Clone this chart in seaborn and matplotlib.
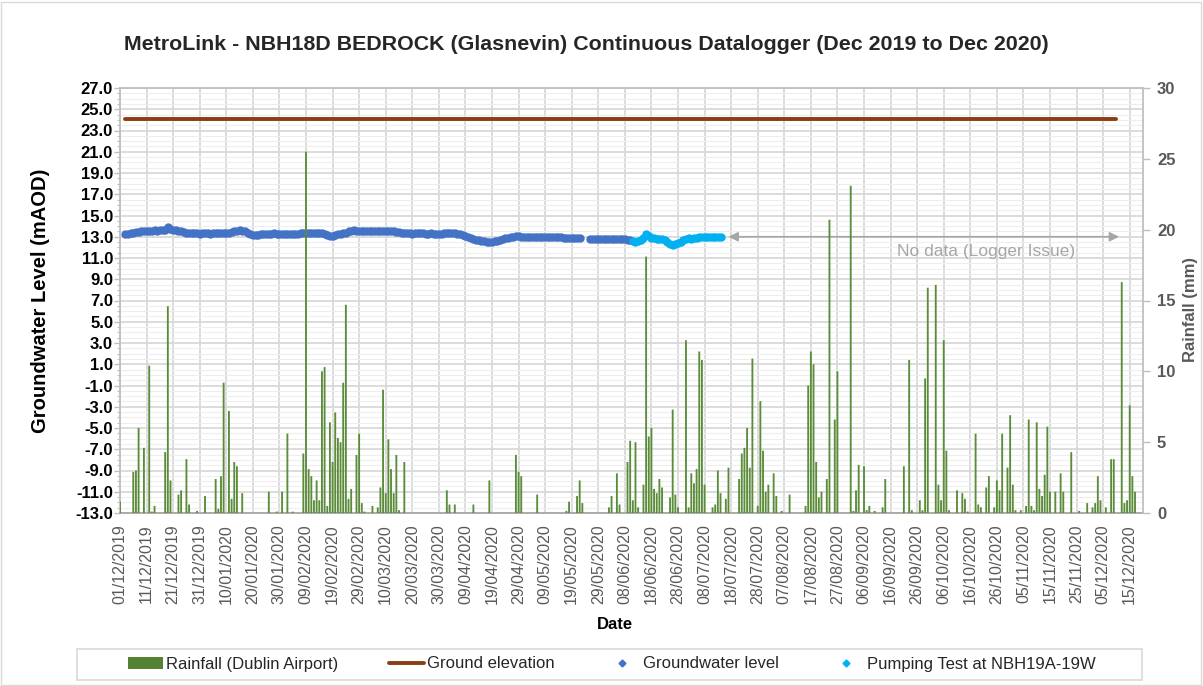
import matplotlib
matplotlib.use("Agg")
import matplotlib.pyplot as plt
import matplotlib.dates as mdates
from matplotlib.lines import Line2D
from matplotlib.patches import Patch, Rectangle
from matplotlib.ticker import FixedLocator, FormatStrFormatter
import numpy as np
import pandas as pd
import seaborn as sns

# ---- data ----
START = pd.Timestamp("2019-12-01")
X_END_DAYS = 385

# daily rainfall, Dublin Airport (day offset from 01/12/2019, mm)
rain_day = [
    0, 5, 6, 7, 9, 11, 12, 13, 17, 18, 19, 22, 23, 25, 26, 29, 32, 36, 37, 38,
    39, 41, 42, 43, 44, 46, 56, 59, 61, 63,
    65, 69, 70, 71, 72, 73, 74, 75, 76, 77, 78, 79, 80, 81, 82, 83, 84, 85, 86, 87,
    89, 90, 91, 92, 95, 97, 98, 99, 100, 101, 102, 103, 104, 105, 107, 123, 124, 126,
    133, 139, 149, 150, 151, 157, 168, 169, 172, 173, 174, 184, 185, 187, 188, 191,
    192, 193, 194, 195, 197, 198, 199, 200, 201, 202, 203, 204, 207, 208, 209, 210,
    213, 214, 215, 216, 217, 218, 219, 220, 223, 224, 225, 226, 228, 229, 233, 234,
    235, 236, 237, 238, 240, 241, 242, 243, 244, 246, 247, 249, 252,
    258, 259, 260, 261, 262, 263, 264, 266, 267, 269, 270, 275, 276, 277, 278, 280,
    281, 282, 284, 287, 288, 295, 297, 298, 301, 302, 303, 304, 307, 308, 309, 310,
    311, 312, 315, 317, 318,
    319, 322, 323, 324, 326, 327, 329, 330, 331, 332, 334, 335, 336, 337, 339, 341,
    342, 343, 344, 345, 346, 347, 348, 349, 350, 352, 354, 355, 358, 361, 364, 366,
    367, 368, 369, 371, 373, 374, 377, 378, 379, 380, 381, 382,
]
rain_mm = [
    0.8, 2.9, 3.0, 6.0, 4.6, 10.4, 0.1, 0.5, 4.3, 14.6, 2.3, 1.3, 1.6, 3.8, 0.6, 0.15, 1.2, 2.4, 0.3, 2.6,
    9.2, 7.2, 1.0, 3.6, 3.3, 1.4, 1.5, 0.1, 1.5, 5.6,
    0.1, 4.2, 25.5, 3.1, 2.6, 0.9, 2.3, 0.9, 10.0, 10.3, 0.5, 6.4, 3.6, 7.1, 5.3, 5.0, 9.2, 14.7, 1.0, 1.7,
    4.1, 5.6, 0.7, 0.1, 0.5, 0.4, 1.8, 8.7, 1.4, 5.2, 3.1, 1.4, 4.1, 0.2, 3.6, 1.6, 0.6, 0.6,
    0.6, 2.3, 4.1, 2.9, 2.6, 1.3, 0.15, 0.8, 1.2, 2.3, 0.7, 0.4, 1.2, 2.8, 0.6, 3.6,
    5.1, 0.9, 5.0, 0.4, 2.0, 18.1, 5.4, 6.0, 1.7, 1.4, 2.4, 1.8, 1.1, 7.3, 1.3, 0.4,
    12.2, 0.4, 2.8, 2.1, 3.1, 11.4, 10.8, 2.0, 0.4, 0.6, 3.0, 1.4, 1.0, 3.2, 2.4, 4.2,
    4.6, 6.0, 3.2, 10.9, 0.5, 7.9, 4.4, 1.5, 2.0, 2.8, 1.2, 0.15, 1.3,
    0.5, 9.0, 11.4, 10.5, 3.6, 1.1, 1.5, 2.4, 20.7, 6.6, 10.0, 23.1, 0.15, 1.6, 3.4, 3.3,
    0.2, 0.5, 0.15, 0.4, 2.4, 3.3, 10.8, 0.2, 0.9, 0.2, 9.5, 15.9, 16.1, 2.0, 0.9, 12.2,
    4.4, 0.2, 1.6, 1.4, 1.0,
    0.1, 5.6, 0.6, 0.4, 1.8, 2.6, 0.4, 2.3, 1.6, 5.6, 3.2, 6.9, 2.0, 0.2, 0.2, 0.5,
    6.6, 0.5, 0.2, 6.4, 1.7, 1.2, 2.7, 6.1, 1.5, 1.5, 2.8, 1.5, 4.3, 0.15, 0.7, 0.4,
    0.7, 2.6, 0.9, 0.4, 3.8, 3.8, 16.3, 0.7, 0.9, 7.6, 2.6, 1.5,
]

# ground elevation (mAOD)
ground_dates = ["2019-12-03", "2020-12-10"]
ground_level = [24.1, 24.1]

# groundwater level, daily readings (mAOD)
gw1_start = "2019-12-03"
gw1_level = [
    13.25, 13.30, 13.35, 13.40, 13.45, 13.45, 13.50, 13.50, 13.50,
    13.55, 13.50, 13.60, 13.55, 13.60, 13.60, 13.65,
    13.90, 13.75, 13.65, 13.60, 13.55, 13.50, 13.45,
    13.40, 13.35, 13.35, 13.35, 13.35, 13.30, 13.35, 13.35, 13.35, 13.30,
    13.35, 13.35, 13.35, 13.40, 13.35, 13.35, 13.40, 13.45, 13.50,
    13.55, 13.60, 13.55, 13.50,
    13.35, 13.25, 13.20, 13.20, 13.20, 13.25,
    13.30, 13.30, 13.30, 13.30, 13.35, 13.30, 13.30, 13.30, 13.30, 13.30,
    13.25, 13.30, 13.30, 13.30, 13.35, 13.35, 13.40,
    13.40, 13.35, 13.35, 13.40, 13.35, 13.35, 13.30,
    13.20, 13.05, 13.05, 13.15, 13.25, 13.30, 13.35, 13.40,
    13.50, 13.55, 13.60, 13.55, 13.50,
    13.50, 13.50, 13.55, 13.50, 13.50, 13.50, 13.50, 13.55, 13.50, 13.50,
    13.50, 13.50, 13.50, 13.45, 13.45, 13.40,
    13.35, 13.35, 13.35, 13.30, 13.35, 13.35, 13.35, 13.35, 13.30, 13.30,
    13.35, 13.30, 13.30, 13.25, 13.30,
    13.35, 13.40, 13.40, 13.40, 13.35, 13.30,
    13.25, 13.15, 13.05, 12.95, 12.85, 12.75, 12.70, 12.65,
    12.60, 12.60, 12.55, 12.55, 12.55, 12.60, 12.60, 12.65,
    12.75, 12.85, 12.90, 12.95, 13.00,
    13.05, 13.05, 13.00, 13.00, 13.00, 13.00, 12.95, 12.95, 13.00, 13.00,
    13.00, 12.95, 12.95, 12.95, 12.95, 12.95, 13.00, 12.95, 12.90, 12.90,
    12.90, 12.85, 12.85, 12.85, 12.85,
]
gw2_start = "2020-05-26"
gw2_level = [
    12.80, 12.80, 12.80, 12.80, 12.75, 12.80, 12.80, 12.80, 12.75, 12.75,
    12.80, 12.75, 12.75, 12.75, 12.70, 12.65,
]

# pumping test at NBH19A-19W, daily readings (mAOD)
pump_start = "2020-06-11"
pump_level = [
    12.60, 12.55, 12.60, 12.70, 12.90, 13.25, 13.05, 12.90, 12.85, 12.80,
    12.80, 12.75, 12.65, 12.50, 12.35, 12.20, 12.30, 12.40, 12.55, 12.65,
    12.75, 12.85, 12.80, 12.85, 12.90, 12.95, 13.00, 12.95, 13.00, 13.00,
    12.95, 13.00, 12.95, 12.95,
]

# "no data" annotation
nodata_from, nodata_to, nodata_y = "2020-07-17", "2020-12-11", 13.0
nodata_text_x, nodata_text_y = "2020-10-22", 11.65

title = "MetroLink - NBH18D BEDROCK (Glasnevin) Continuous Datalogger (Dec 2019 to Dec 2020)"

# ---- styling ----
sns.set_style("white")
plt.rcParams["font.family"] = ["Liberation Sans", "DejaVu Sans"]

C_RAIN = "#5B8C3A"
C_GROUND = "#8B3E12"
C_GW = "#4472C4"
C_PUMP = "#00B0F0"
C_GRID = "#D9D9D9"
C_TXT = "#595959"

rain_df = pd.DataFrame({"date": START + pd.to_timedelta(rain_day, unit="D"), "mm": rain_mm})
gw_df = pd.concat([
    pd.DataFrame({"date": pd.date_range(gw1_start, periods=len(gw1_level), freq="D"), "level": gw1_level}),
    pd.DataFrame({"date": pd.date_range(gw2_start, periods=len(gw2_level), freq="D"), "level": gw2_level}),
])
pump_df = pd.DataFrame({"date": pd.date_range(pump_start, periods=len(pump_level), freq="D"), "level": pump_level})
ground_df = pd.DataFrame({"date": pd.to_datetime(ground_dates), "level": ground_level})

fig = plt.figure(figsize=(12.03, 6.86), dpi=100)
ax = fig.add_subplot(111)
fig.subplots_adjust(left=120 / 1203, right=1143 / 1203, top=1 - 88 / 686, bottom=1 - 513 / 686)

sns.lineplot(data=ground_df, x="date", y="level", ax=ax, color=C_GROUND, linewidth=2.8, zorder=3)
sns.scatterplot(data=gw_df, x="date", y="level", ax=ax, color=C_GW, s=36, linewidth=0, zorder=4)
sns.scatterplot(data=pump_df, x="date", y="level", ax=ax, color=C_PUMP, s=36, linewidth=0, zorder=4)

ax.set_xlim(START, START + pd.Timedelta(days=X_END_DAYS))
ax.set_ylim(-13, 27)
ax.yaxis.set_major_locator(FixedLocator(np.arange(-13, 27.01, 2)))
ax.yaxis.set_minor_locator(FixedLocator(np.arange(-13, 27.01, 0.5)))
ax.yaxis.set_major_formatter(FormatStrFormatter("%.1f"))
ax.set_xticks(pd.date_range("2019-12-01", "2020-12-15", freq="10D"))
ax.xaxis.set_major_formatter(mdates.DateFormatter("%d/%m/%Y"))
ax.xaxis.set_minor_locator(FixedLocator([]))

ax.grid(which="major", color=C_GRID, linewidth=1.3)
ax.grid(which="minor", axis="y", color="#EEEEEE", linewidth=0.8)
ax.set_axisbelow(True)

ax.tick_params(axis="x", which="major", labelrotation=90, labelsize=11.5, labelcolor=C_TXT,
               color="#BFBFBF", length=0, pad=8)
ax.tick_params(axis="y", which="major", labelsize=12, labelcolor="black", color="#BFBFBF",
               length=4, width=1, direction="out", left=True, pad=1)
ax.tick_params(axis="y", which="minor", color="#BFBFBF", length=2.5, width=0.8, direction="out", left=True)
for lab in ax.get_yticklabels():
    lab.set_fontweight("bold")

for side in ["left", "top", "bottom"]:
    ax.spines[side].set_color("#BFBFBF")
    ax.spines[side].set_linewidth(1.3)
ax.spines["bottom"].set_color("#A6A6A6")
ax.spines["right"].set_visible(False)

ax.set_xlabel("Date", fontsize=12, fontweight="bold", color="black")
ax.xaxis.set_label_coords((615 - 120) / 1023, (513 - 617) / 425)
ax.set_ylabel("Groundwater Level (mAOD)", fontsize=14.5, fontweight="bold", color="black")
ax.yaxis.set_label_coords((50 - 120) / 1023, 0.5)

# rainfall on secondary axis
ax2 = ax.twinx()
ax2.bar(rain_df["date"], rain_df["mm"], width=0.7, color=C_RAIN, linewidth=0, zorder=2, snap=False)
ax2.set_ylim(0, 30)
ax2.set_yticks(np.arange(0, 31, 5))
ax2.tick_params(axis="y", labelsize=12, labelcolor=C_TXT, color="#BFBFBF", length=5, width=1, pad=5)
for lab in ax2.get_yticklabels():
    lab.set_fontweight("bold")
for side in ["left", "top", "bottom"]:
    ax2.spines[side].set_visible(False)
ax2.spines["right"].set_color("#BFBFBF")
ax2.spines["right"].set_linewidth(1.3)
ax2.set_ylabel("Rainfall (mm)", fontsize=12, fontweight="bold", color=C_TXT)
ax2.yaxis.set_label_coords((1183 - 120) / 1023, 0.48)
ax2.set_xlim(ax.get_xlim())

# no data annotation
ax.annotate("", xy=(pd.Timestamp(nodata_to), nodata_y), xytext=(pd.Timestamp(nodata_from), nodata_y),
            arrowprops=dict(arrowstyle="<|-|>", color="#A6A6A6", lw=1.2, mutation_scale=14,
                            shrinkA=0, shrinkB=0), zorder=5)
ax.text(pd.Timestamp(nodata_text_x), nodata_text_y, "No data (Logger Issue)", fontsize=12.5,
        color="#A6A6A6", ha="center", va="center", zorder=5)

fig.text(586 / 1203, 1 - 45 / 686, title, fontsize=15.4, fontweight="bold", ha="center", va="center")

# legend
handles = [
    Patch(facecolor="#548235", edgecolor="none"),
    Line2D([], [], color=C_GROUND, linewidth=2.8),
    Line2D([], [], color=C_GW, marker="D", linestyle="none", markersize=3.5),
    Line2D([], [], color=C_PUMP, marker="D", linestyle="none", markersize=3.5),
]
labels = ["Rainfall (Dublin Airport)", "Ground elevation", "Groundwater level", "Pumping Test at NBH19A-19W"]
fig.legend(handles, labels, loc="center", bbox_to_anchor=(612 / 1203, 1 - 664 / 686), ncol=4,
           frameon=False, fontsize=12, handlelength=2.1, handletextpad=0.2, columnspacing=3.0)
fig.patches.append(Rectangle((77 / 1203, 1 - 680 / 686), (1142 - 77) / 1203, 31 / 686,
                             transform=fig.transFigure, fill=False, edgecolor=C_GRID, linewidth=1.2))
fig.patches.append(Rectangle((0.0008, 0.0015), 0.9975, 0.996, transform=fig.transFigure,
                             fill=False, edgecolor=C_GRID, linewidth=1.0))

fig.savefig("out.png", dpi=100)
